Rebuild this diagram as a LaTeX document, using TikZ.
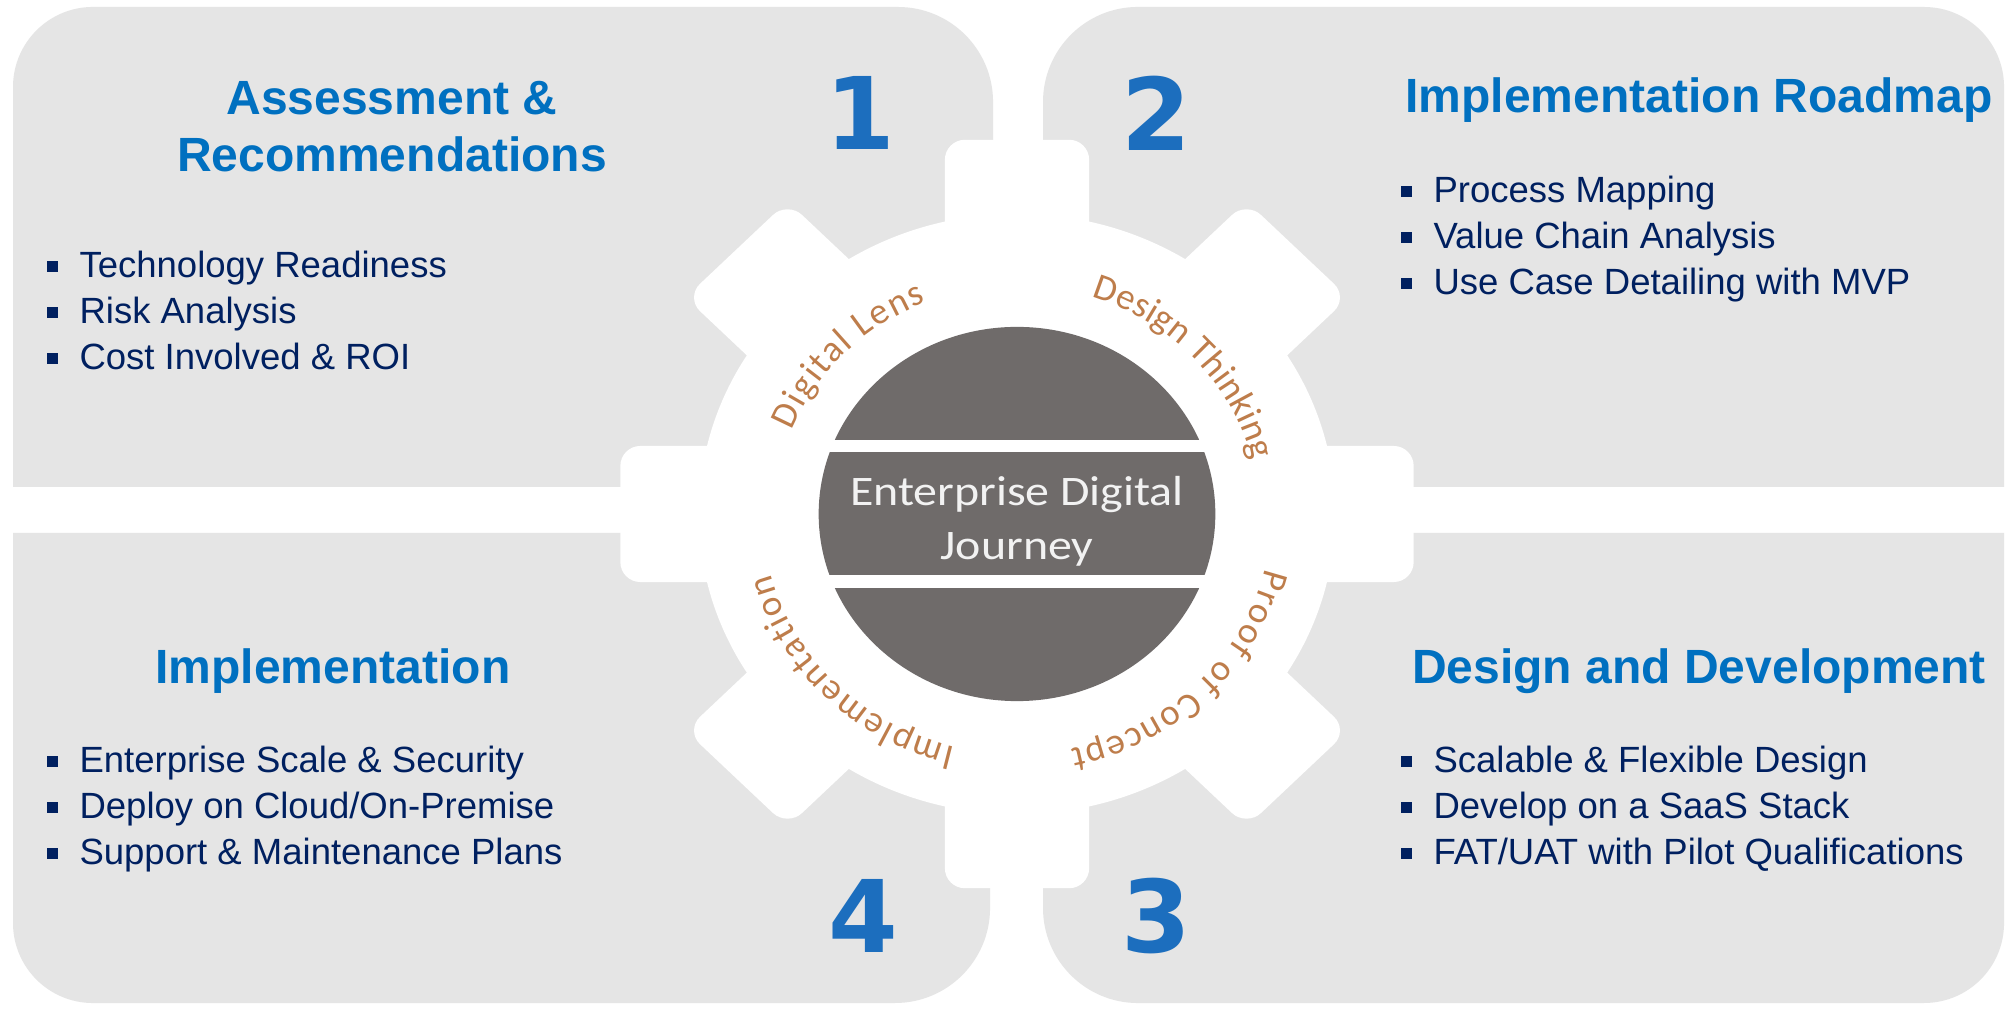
\documentclass[tikz,border=0pt]{standalone}
\usepackage{fontspec}
\setmainfont{Liberation Sans}
\newfontfamily\numfont{DejaVu Sans}
\newfontfamily\gearfont[FakeStretch=1.14]{Carlito}
\newfontfamily\arcfont{Carlito}
\usetikzlibrary{positioning}
\usetikzlibrary{decorations.text}

\definecolor{panelgray}{RGB}{229,229,229}
\definecolor{titleblue}{RGB}{0,112,192}
\definecolor{itemnavy}{RGB}{0,32,96}
\definecolor{numblue}{RGB}{28,110,190}
\definecolor{discgray}{RGB}{111,107,106}
\definecolor{arcbrown}{RGB}{190,125,75}
\definecolor{journeywhite}{RGB}{242,242,242}

\newcommand\bsq{\rule[0.17em]{0.3em}{0.3em}\hspace{0.6em}}
\newcommand\arcstyle{\arcfont\fontsize{10.5pt}{12pt}\selectfont}

\tikzset{
  panel/.style={fill=panelgray},
  heading/.style={font=\bfseries\fontsize{13.66pt}{16.2pt}\selectfont, text=titleblue, inner sep=0pt, align=center},
  item/.style={font=\fontsize{10.38pt}{12.6pt}\selectfont, text=itemnavy, inner sep=0pt, text height=0.27cm, text depth=0.08cm, anchor=base west},
  num/.style={font=\numfont\bfseries\fontsize{28.5pt}{30pt}\selectfont, text=numblue, inner sep=0pt},
  gearlabel/.style={font=\gearfont\fontsize{11.95pt}{15.3pt}\selectfont, text=journeywhite, inner sep=0pt, align=center},
  arclabel/.style={decorate, decoration={text along path, text align=fit to path, text color=arcbrown, text={|\arcstyle|#1}}}
}

\begin{document}
\begin{tikzpicture}[x=0.01cm, y=0.01cm]
  \useasboundingbox (0,0) rectangle (2006,1009);
  \fill[white] (0,0) rectangle (2006,1009);

  % four panels
  \fill[panel] (13,522) -- (13,922) arc[start angle=180, end angle=90, radius=0.8cm] -- (898,1002) arc[start angle=90, end angle=0, radius=0.95cm] -- (993,522) -- cycle;
  \fill[panel] (1043,522) -- (1043,907) arc[start angle=180, end angle=90, radius=0.95cm] -- (1924,1002) arc[start angle=90, end angle=0, radius=0.8cm] -- (2004,522) -- cycle;
  \fill[panel] (13,476) -- (13,86) arc[start angle=180, end angle=270, radius=0.8cm] -- (895,6) arc[start angle=270, end angle=360, radius=0.95cm] -- (990,476) -- cycle;
  \fill[panel] (1043,476) -- (1043,101) arc[start angle=180, end angle=270, radius=0.95cm] -- (1924,6) arc[start angle=270, end angle=360, radius=0.8cm] -- (2004,476) -- cycle;

  % gear
  \begin{scope}[shift={(1017,495)}, xscale=1.06]
    \fill[white] (0,0) circle[radius=3cm];
    \foreach \a in {0,45,...,315}
      \fill[white, rotate=\a, rounded corners=0.2cm] (2.4cm,-0.68cm) rectangle (3.74cm,0.68cm);
    \fill[discgray] (0,0) circle[radius=1.87cm];
    \fill[white] (-2cm,0.62cm) rectangle (2cm,0.74cm);
    \fill[white] (-2cm,-0.74cm) rectangle (2cm,-0.61cm);
    \node(journey)[gearlabel] at (0,-7) {Enterprise Digital\\Journey};

    \path[arclabel=Digital Lens] (158.5:2.28cm) arc[start angle=158.5, end angle=112, radius=2.28cm];
    \path[arclabel=Design Thinking] (72:2.28cm) arc[start angle=72, end angle=13.5, radius=2.28cm];
    \path[arclabel=Proof of Concept] (-13:2.4cm) arc[start angle=-13, end angle=-78, radius=2.4cm];
    \path[arclabel=Implementation] (-104:2.4cm) arc[start angle=-104, end angle=-165.5, radius=2.4cm];
  \end{scope}

  % numbers
  \node(one)[num] at (860,896) {1};
  \node(two)[num] at (1156,896) {2};
  \node(three)[num] at (1156,93) {3};
  \node(four)[num] at (863,93) {4};

  % headings
  \node(assess)[heading, anchor=north] at (392,928) {Assessment \&\\Recommendations};
  \node(roadmap)[heading, anchor=base] at (1699,896) {Implementation Roadmap};
  \node(implement)[heading, anchor=base] at (333,325) {Implementation};
  \node(design)[heading, anchor=base] at (1699,325) {Design and Development};

  % bullet lists
  \node(tl1)[item] at (46,731) {\bsq Technology Readiness};
  \node(tl2)[item, below=0.95mm of tl1.south west, anchor=north west] {\bsq Risk Analysis};
  \node(tl3)[item, below=0.95mm of tl2.south west, anchor=north west] {\bsq Cost Involved \& ROI};

  \node(tr1)[item] at (1400,806) {\bsq Process Mapping};
  \node(tr2)[item, below=0.95mm of tr1.south west, anchor=north west] {\bsq Value Chain Analysis};
  \node(tr3)[item, below=0.95mm of tr2.south west, anchor=north west] {\bsq Use Case Detailing with MVP};

  \node(bl1)[item] at (46,236) {\bsq Enterprise Scale \& Security};
  \node(bl2)[item, below=0.95mm of bl1.south west, anchor=north west] {\bsq Deploy on Cloud/On-Premise};
  \node(bl3)[item, below=0.95mm of bl2.south west, anchor=north west] {\bsq Support \& Maintenance Plans};

  \node(br1)[item] at (1400,236) {\bsq Scalable \& Flexible Design};
  \node(br2)[item, below=0.95mm of br1.south west, anchor=north west] {\bsq Develop on a SaaS Stack};
  \node(br3)[item, below=0.95mm of br2.south west, anchor=north west] {\bsq FAT/UAT with Pilot Qualifications};
\end{tikzpicture}
\end{document}
